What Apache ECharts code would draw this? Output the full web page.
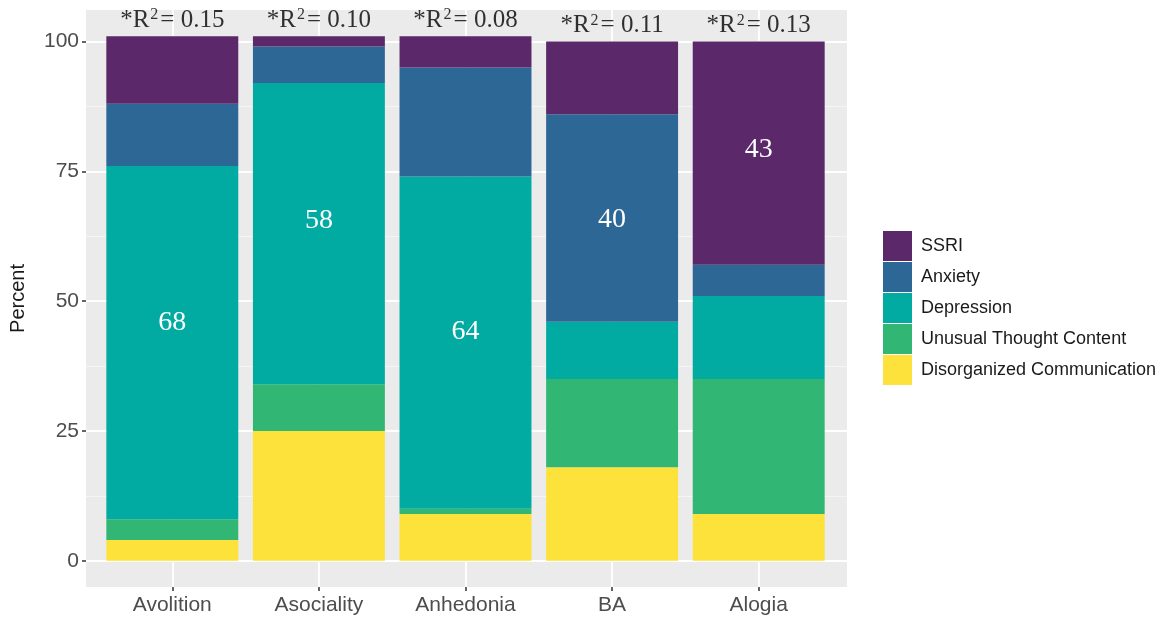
<!DOCTYPE html>
<html>
<head>
<meta charset="utf-8">
<script src="https://cdn.jsdelivr.net/npm/echarts@6/dist/echarts.min.js"></script>
<style>
	html, body { margin: 0; padding: 0; background: #fff; }
	#main { width: 1170px; height: 618px; }
</style>
</head>
<body>
<div id="main"></div>
<script>
var categories = ['Avolition', 'Asociality', 'Anhedonia', 'BA', 'Alogia'];
var disorganized = [4, 25, 9, 18, 9];
var unusual = [4, 9, 1, 17, 26];
var depression = [68, 58, 64, 11, 16];
var anxiety = [12, 7, 21, 40, 6];
var ssri = [13, 2, 6, 14, 43];
var r2Values = ['0.15', '0.10', '0.08', '0.11', '0.13'];
var yTicks = [0, 25, 50, 75, 100];
var yMinor = [12.5, 37.5, 62.5, 87.5];

// which cells carry a number inside the bar
var shownLabels = { 'Depression': [0, 1, 2], 'Anxiety': [3], 'SSRI': [4] };
var labelShift = { 'Depression': [-20, -13, -11], 'Anxiety': [0, 0, 0, 2], 'SSRI': [0, 0, 0, 0, -3] };

var colors = {
	'SSRI': '#5b2869',
	'Anxiety': '#2d6796',
	'Depression': '#02aba2',
	'Unusual Thought Content': '#32b673',
	'Disorganized Communication': '#fde23b'
};

var stackOrder = [
	['Disorganized Communication', disorganized],
	['Unusual Thought Content', unusual],
	['Depression', depression],
	['Anxiety', anxiety],
	['SSRI', ssri]
];

var totals = categories.map(function (c, i) {
	var t = 0;
	stackOrder.forEach(function (s) { t += s[1][i]; });
	return t;
});

var yMin = -5.05, yMax = 106.05;
var sans = 'Liberation Sans';
var serif = 'Liberation Serif';

var series = stackOrder.map(function (s) {
	var name = s[0];
	var idx = shownLabels[name] || [];
	return {
		name: name,
		type: 'bar',
		stack: 'all',
		xAxisIndex: 1,
		yAxisIndex: 2,
		barWidth: '90%',
		clip: false,
		itemStyle: { color: colors[name] },
		data: s[1].map(function (v, i) {
			var item = { value: v };
			if (idx.indexOf(i) >= 0) {
				item.label = {
					show: true,
					position: 'inside',
					offset: [0, (labelShift[name] || [])[i] || 0],
					color: '#fff',
					fontFamily: serif,
					fontSize: 28
				};
			}
			return item;
		})
	};
});

series.push({
	name: 'r2',
	type: 'scatter',
	xAxisIndex: 1,
	yAxisIndex: 2,
	symbolSize: 0,
	silent: true,
	data: totals,
	label: {
		show: true,
		position: 'top',
		distance: 3,
		formatter: function (p) {
			return '{a|*R}{s|2}{a|= ' + r2Values[p.dataIndex] + '}';
		},
		rich: {
			a: { fontFamily: serif, fontSize: 25, color: '#000', lineHeight: 26 },
			s: { fontFamily: serif, fontSize: 16, color: '#000', lineHeight: 26, verticalAlign: 'top', padding: [0, 2, 0, 1] }
		}
	}
});

var chart = echarts.init(document.getElementById('main'));
chart.setOption({
	backgroundColor: '#fff',
	animation: false,
	grid: [
		{ left: 85, right: 323, top: 10, bottom: 31, show: true, backgroundColor: '#ebebeb', borderWidth: 0 },
		{ left: 99, right: 338, top: 10, bottom: 31 }
	],
	xAxis: [
		{ type: 'category', gridIndex: 0, data: categories, show: false },
		{
			type: 'category', gridIndex: 1, data: categories,
			axisLine: { show: false, onZero: false },
			axisTick: { show: true, alignWithLabel: true, length: 4, lineStyle: { color: '#333', width: 1.5 } },
			axisLabel: { color: '#4d4d4d', fontFamily: sans, fontSize: 21, margin: 8 },
			splitLine: { show: true, alignWithLabel: true, lineStyle: { color: '#fff', width: 1.8 } }
		}
	],
	yAxis: [
		{
			type: 'value', gridIndex: 0, min: yMin, max: yMax,
			name: 'Percent', nameLocation: 'middle', nameGap: 58,
			nameTextStyle: { color: '#1a1a1a', fontFamily: sans, fontSize: 20 },
			axisLine: { show: false },
			axisTick: { show: true, length: 4, customValues: yTicks, lineStyle: { color: '#333', width: 1.5 } },
			axisLabel: { customValues: yTicks, color: '#4d4d4d', fontFamily: sans, fontSize: 21, margin: 7 },
			splitLine: { show: true, lineStyle: { color: '#fff', width: 1.8 } }
		},
		{
			type: 'value', gridIndex: 0, min: yMin, max: yMax, position: 'left',
			axisLine: { show: false },
			axisTick: { show: false, customValues: yMinor },
			axisLabel: { show: false, customValues: yMinor },
			splitLine: { show: true, lineStyle: { color: '#f7f7f7', width: 0.8 } }
		},
		{ type: 'value', gridIndex: 1, min: yMin, max: yMax, show: false, splitLine: { show: false } }
	],
	legend: {
		orient: 'vertical',
		left: 878,
		top: 226,
		icon: 'rect',
		itemWidth: 29,
		itemHeight: 30,
		itemGap: 1,
		selectedMode: false,
		data: ['SSRI', 'Anxiety', 'Depression', 'Unusual Thought Content', 'Disorganized Communication'],
		textStyle: { color: '#1a1a1a', fontFamily: sans, fontSize: 18, padding: [0, 0, 0, 4] }
	},
	series: series
});
</script>
</body>
</html>
